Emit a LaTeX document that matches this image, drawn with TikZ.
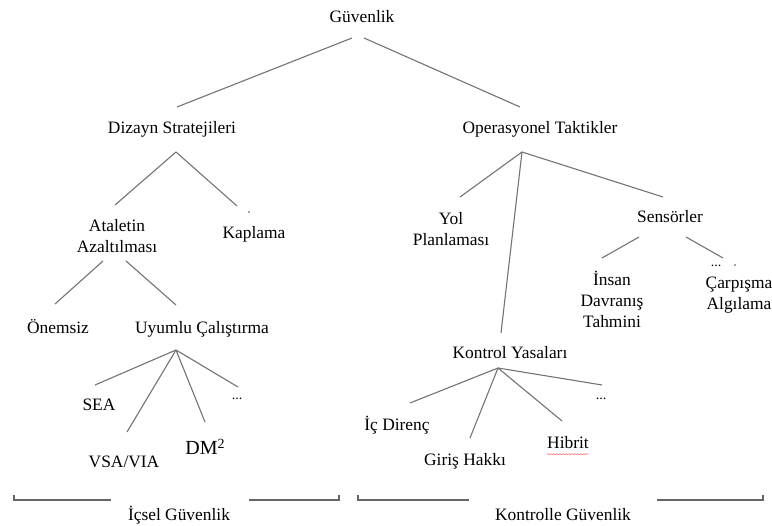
\documentclass[tikz,border=0pt]{standalone}
\usepackage{fontspec}
\setmainfont{Liberation Serif}
\usetikzlibrary{decorations.pathmorphing}

\begin{document}
\begin{tikzpicture}[x=1pt,y=-1pt,
  lbl/.style={font=\fontsize{17.4}{21}\selectfont, inner sep=0pt, text height=12pt, text depth=4pt, yshift=-2pt},
  mlbl/.style={font=\fontsize{17.4}{21}\selectfont, inner sep=0pt, align=center},
  dots/.style={font=\fontsize{14}{16}\selectfont, inner sep=0pt, anchor=base},
  branch/.style={draw=black!55, line width=1.1pt},
  brace/.style={draw=black!60, line width=1.1pt}]

\useasboundingbox (0,0) rectangle (772,526);

% ---- labels ----
\node[lbl]  (g)   at (362,17)  {Güvenlik};
\node[lbl]  (ds)  at (172,128) {Dizayn Stratejileri};
\node[lbl]  (ot)  at (540,128) {Operasyonel Taktikler};
\node[mlbl] (aa)  at (117,236) {Ataletin\\Azaltılması};
\node[lbl]  (kp)  at (254,233) {Kaplama};
\node[mlbl] (yp)  at (451,229) {Yol\\Planlaması};
\node[lbl]  (sn)  at (670,217) {Sensörler};
\node[mlbl] (ih)  at (612,299) {İnsan\\Davranış\\Tahmini};
\node[mlbl] (ca)  at (739,295) {Çarpışma\\Algılama};
\node[lbl]  (on)  at (58,328)  {Önemsiz};
\node[lbl]  (uc)  at (202,328) {Uyumlu Çalıştırma};
\node[lbl]  (ky)  at (510,353) {Kontrol Yasaları};
\node[lbl]  (sea) at (99,405)  {SEA};
\node[lbl]  (vsa) at (124,462) {VSA/VIA};
\node[font=\fontsize{20}{23}\selectfont, inner sep=0pt, anchor=base] (dm) at (205,455) {DM\raisebox{6.5pt}{\fontsize{14}{16}\selectfont 2}};
\node[dots] (ud)  at (237,400) {...};
\node[lbl]  (id)  at (397,425) {İç Direnç};
\node[lbl]  (gh)  at (465,460) {Giriş Hakkı};
\node[lbl]  (hb)  at (568,443) {Hibrit};
\node[dots] (kd)  at (601,400) {...};
\node[dots] (cd)  at (716,267) {...};
\node[lbl]  (ig)  at (179,515) {İçsel Güvenlik};
\node[lbl]  (kg)  at (563,515) {Kontrolle Güvenlik};

% stray marks
\fill[black!70] (249,212) coordinate (kp-dot) circle (0.9);
\fill[black!70] (735,265) coordinate (ca-dot) circle (0.9);
\draw[red!60, line width=0.5pt, decorate,
      decoration={snake, amplitude=0.6pt, segment length=3pt}]
  (hb.south west) ++(0,1) coordinate (hb-ul1) -- (hb.south east |- hb-ul1);

% ---- connector end points ----
\coordinate (g-l)  at (352,38);   \coordinate (ds-t) at (177,107);
\coordinate (g-r)  at (364,38);   \coordinate (ot-t) at (520,107);

\coordinate (ds-b) at (176,152);
\coordinate (aa-t) at (115,205);  \coordinate (kp-t) at (237,206);

\coordinate (aa-bl) at (103,261); \coordinate (on-t) at (55,304);
\coordinate (aa-br) at (126,261); \coordinate (uc-t) at (176,305);

\coordinate (ot-b) at (522,152);
\coordinate (yp-t) at (460,197);  \coordinate (sn-t) at (663,197);
\coordinate (ky-t) at (501,333);

\coordinate (sn-bl) at (639,237); \coordinate (ih-t) at (602,258);
\coordinate (sn-br) at (686,237); \coordinate (ca-t) at (723,258);

\coordinate (uc-b) at (176,350);
\coordinate (sea-t) at (95,385);  \coordinate (vsa-t) at (127,432);
\coordinate (dm-t)  at (205,422); \coordinate (ud-t)  at (238,387);

\coordinate (ky-b) at (498,368);
\coordinate (id-t) at (410,403);  \coordinate (gh-t) at (470,438);
\coordinate (hb-t) at (562,421);  \coordinate (kd-t) at (602,385);

% ---- tree branches ----
\draw[branch] (g-l) -- (ds-t);
\draw[branch] (g-r) -- (ot-t);

\draw[branch] (ds-b) -- (aa-t);
\draw[branch] (ds-b) -- (kp-t);

\draw[branch] (aa-bl) -- (on-t);
\draw[branch] (aa-br) -- (uc-t);

\draw[branch] (ot-b) -- (yp-t);
\draw[branch] (ot-b) -- (sn-t);
\draw[branch] (ot-b) -- (ky-t);

\draw[branch] (sn-bl) -- (ih-t);
\draw[branch] (sn-br) -- (ca-t);

\draw[branch] (uc-b) -- (sea-t);
\draw[branch] (uc-b) -- (vsa-t);
\draw[branch] (uc-b) -- (dm-t);
\draw[branch] (uc-b) -- (ud-t);

\draw[branch] (ky-b) -- (id-t);
\draw[branch] (ky-b) -- (gh-t);
\draw[branch] (ky-b) -- (hb-t);
\draw[branch] (ky-b) -- (kd-t);

% ---- group brackets ----
\coordinate (ig-a) at (14,495);  \coordinate (ig-b) at (111,500);
\coordinate (ig-c) at (249,500); \coordinate (ig-d) at (339,495);
\coordinate (kg-a) at (358,495); \coordinate (kg-b) at (469,500);
\coordinate (kg-c) at (657,500); \coordinate (kg-d) at (763,495);

\draw[brace] (ig-a) |- (ig-b);
\draw[brace] (ig-c) -| (ig-d);
\draw[brace] (kg-a) |- (kg-b);
\draw[brace] (kg-c) -| (kg-d);
\end{tikzpicture}
\end{document}
